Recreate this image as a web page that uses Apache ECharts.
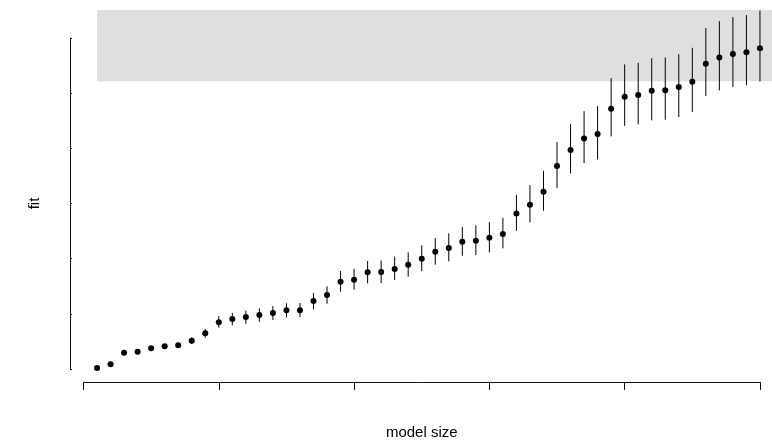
<!DOCTYPE html>
<html>
<head>
<meta charset="utf-8">
<script src="https://cdn.jsdelivr.net/npm/echarts@6/dist/echarts.min.js"></script>
<style>
html,body{margin:0;padding:0;background:#fff;}
#chart{width:772px;height:440px;}
</style>
</head>
<body>
<div id="chart"></div>
<script>
// model index (x), fitted value, lower and upper interval bounds
const modelSize = [1,2,3,4,5,6,7,8,9,10,11,12,13,14,15,16,17,18,19,20,21,22,23,24,25,26,27,28,29,30,31,32,33,34,35,36,37,38,39,40,41,42,43,44,45,46,47,48,49,50];
const fitValues = [0.018,0.085,0.295,0.314,0.375,0.411,0.430,0.513,0.647,0.846,
  0.906,0.943,0.979,1.015,1.064,1.064,1.233,1.341,1.582,1.619,
  1.753,1.758,1.813,1.891,1.999,2.126,2.193,2.307,2.326,2.380,
  2.447,2.822,2.978,3.214,3.680,3.970,4.182,4.260,4.718,4.936,
  4.967,5.044,5.057,5.112,5.208,5.534,5.650,5.710,5.746,5.818];
const lowerValues = [0.005,0.068,0.275,0.29,0.345,0.378,0.394,0.453,0.567,0.749,
  0.792,0.821,0.857,0.888,0.937,0.943,1.088,1.184,1.401,1.437,
  1.553,1.559,1.613,1.673,1.776,1.891,1.952,2.054,2.066,2.115,
  2.188,2.507,2.659,2.869,3.281,3.547,3.734,3.801,4.218,4.410,
  4.435,4.508,4.519,4.568,4.658,4.948,5.052,5.112,5.142,5.215];
const upperValues = [0.031,0.102,0.315,0.338,0.405,0.444,0.466,0.575,0.725,0.961,
  1.015,1.057,1.100,1.142,1.191,1.196,1.378,1.499,1.776,1.813,
  1.958,1.970,2.036,2.115,2.242,2.374,2.460,2.579,2.605,2.664,
  2.742,3.154,3.335,3.594,4.115,4.441,4.676,4.767,5.275,5.523,
  5.552,5.637,5.650,5.710,5.824,6.181,6.308,6.380,6.417,6.5];
const xTicks = [0,10,20,30,40,50];
const yTicks = [0,1,2,3,4,5,6];
// shaded reference band: starts at model 1, spans fit range below
const bandStartX = 1;
const bandY = [5.22, 6.51];

const pointData = modelSize.map((m, k) => [m, fitValues[k]]);
const whiskerData = modelSize.map((m, k) => [m, lowerValues[k], upperValues[k]]);

const chart = echarts.init(document.getElementById('chart'), null, {renderer: 'canvas'});
const axisColor = '#111';
const fontFamily = 'Liberation Sans, Arial, sans-serif';

chart.setOption({
  animation: false,
  backgroundColor: '#fff',
  grid: [
    {left: 83.5, right: 12, top: 38, bottom: 71, containLabel: false, outerBoundsMode: 'none'},
    {left: 83.5, right: 0, top: 10, bottom: 71, containLabel: false, outerBoundsMode: 'none'}
  ],
  xAxis: [
    {
      gridIndex: 0, type: 'value', min: xTicks[0], max: xTicks[xTicks.length - 1],
      interval: xTicks[1] - xTicks[0], offset: 13, position: 'bottom',
      axisLine: {show: true, onZero: false, lineStyle: {color: axisColor, width: 1}},
      axisTick: {show: true, length: 8, lineStyle: {color: axisColor, width: 1}},
      axisLabel: {show: false}, splitLine: {show: false},
      name: 'model size', nameLocation: 'middle', nameGap: 43,
      nameTextStyle: {fontFamily: fontFamily, fontSize: 15, color: '#000'}
    },
    {gridIndex: 1, type: 'value', min: 0, max: 50.89, show: false}
  ],
  yAxis: [
    {
      gridIndex: 0, type: 'value', min: yTicks[0], max: yTicks[yTicks.length - 1],
      interval: yTicks[1] - yTicks[0], offset: 13.5, position: 'left',
      axisLine: {show: true, onZero: false, lineStyle: {color: axisColor, width: 1}},
      axisTick: {show: true, inside: true, length: 2, lineStyle: {color: axisColor, width: 1}},
      axisLabel: {show: false}, splitLine: {show: false},
      name: 'fit', nameLocation: 'middle', nameGap: 28, nameRotate: 90,
      nameTextStyle: {fontFamily: fontFamily, fontSize: 15, color: '#000'}
    },
    {gridIndex: 1, type: 'value', min: 0, max: 6.51, show: false}
  ],
  series: [
    {
      type: 'scatter', xAxisIndex: 1, yAxisIndex: 1, data: [], z: 1, silent: true,
      markArea: {
        silent: true,
        itemStyle: {color: '#dfdfdf', opacity: 1},
        data: [[{xAxis: bandStartX, yAxis: bandY[0]}, {xAxis: 'max', yAxis: bandY[1]}]]
      }
    },
    {
      type: 'custom', xAxisIndex: 1, yAxisIndex: 1, z: 2, silent: true,
      data: whiskerData,
      renderItem: function (params, api) {
        const x = api.value(0);
        const p1 = api.coord([x, api.value(1)]);
        const p2 = api.coord([x, api.value(2)]);
        return {
          type: 'line',
          shape: {x1: p1[0], y1: p1[1], x2: p2[0], y2: p2[1]},
          style: {stroke: '#000', lineWidth: 1}
        };
      }
    },
    {
      type: 'scatter', xAxisIndex: 1, yAxisIndex: 1, z: 3, silent: true,
      symbol: 'circle', symbolSize: 6,
      itemStyle: {color: '#000', opacity: 1},
      data: pointData
    }
  ]
});
</script>
</body>
</html>
